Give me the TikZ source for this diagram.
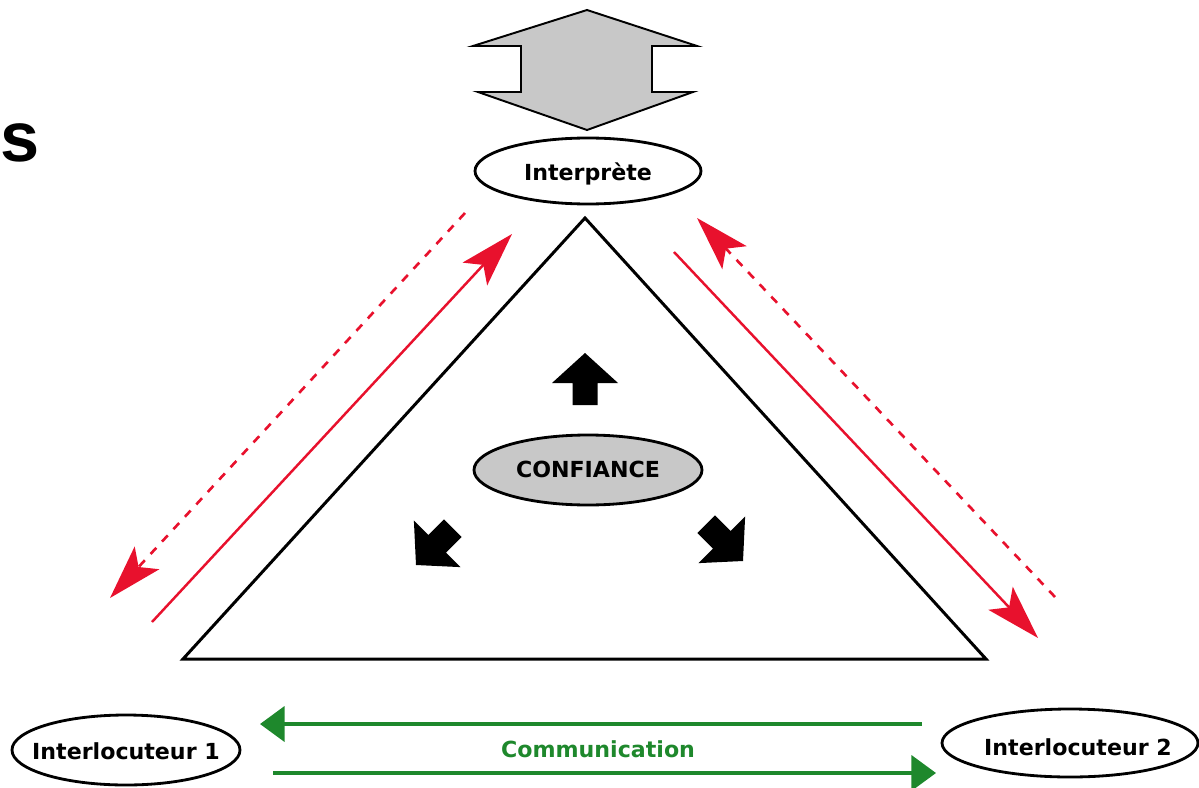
\documentclass[tikz,border=0pt]{standalone}
\usepackage{fontspec}
\setmainfont{DejaVu Sans}
\newfontfamily\bigsfont{Liberation Sans}
\usetikzlibrary{arrows.meta}
\definecolor{redarr}{RGB}{232,17,45}
\definecolor{greenarr}{RGB}{30,136,44}
\definecolor{shapegray}{RGB}{200,200,200}
\begin{document}
\begin{tikzpicture}[x=0.02cm,y=-0.02cm,
  lbl/.style={font=\fontsize{12.6}{15}\selectfont\bfseries, inner sep=0pt, anchor=base},
  oval/.style={draw=black, line width=1.6pt},
  redline/.style={draw=redarr, line width=1.4pt, -{Stealth[length=31pt,width=19pt,inset=7pt]}},
  reddash/.style={redline, line width=1.5pt, dash pattern=on 4.8pt off 4.8pt},
  greenline/.style={draw=greenarr, line width=2pt, -{Triangle[length=14pt,width=20pt]}},
  blackarrow/.style={fill=black},
]
\useasboundingbox (0,0) rectangle (1199,787);

% big double arrow at top
\draw[fill=shapegray, line width=1.1pt, line join=miter]
  (587,10) -- (697,46) -- (652,46) -- (652,92) -- (693,92) -- (587,130)
  -- (478,92) -- (521,92) -- (521,46) -- (473,46) -- cycle;

% triangle
\draw[line width=1.7pt, line join=miter] (585,218) -- (986,659) -- (183,659) -- cycle;

% ellipses
\draw[oval] (588,171) ellipse [x radius=113, y radius=33];
\draw[oval, fill=shapegray] (588,470) ellipse [x radius=114, y radius=35];
\draw[oval] (126,750) ellipse [x radius=114, y radius=35];
\draw[oval] (1070,743) ellipse [x radius=128, y radius=34];

% labels
\node[lbl] (interp) at (588,181) {Interprète};
\node[lbl] (conf) at (588,477) {CONFIANCE};
\node[lbl] (int1) at (126,759) {Interlocuteur 1};
\node[lbl] (int2) at (1078,755) {Interlocuteur 2};
\node[lbl, text=greenarr] (comm) at (598,757) {Communication};
\node[font=\bigsfont\bfseries\fontsize{40}{40}\selectfont, inner sep=0pt, anchor=base west] (s) at (0,162) {s};

% black block arrows
\fill[blackarrow, shift={(585,353)}]
  (0,0) -- (33,30) -- (12.5,30) -- (12.5,52) -- (-12.5,52) -- (-12.5,30) -- (-33,30) -- cycle;
\fill[blackarrow, shift={(416,565)}, rotate=135]
  (0,0) -- (33,30) -- (12.5,30) -- (12.5,52) -- (-12.5,52) -- (-12.5,30) -- (-33,30) -- cycle;
\fill[blackarrow, shift={(743,561)}, rotate=-135]
  (0,0) -- (33,30) -- (12.5,30) -- (12.5,52) -- (-12.5,52) -- (-12.5,30) -- (-33,30) -- cycle;

% red arrows
\coordinate (la) at (152,622);  \coordinate (lb) at (512,234);
\coordinate (lc) at (465,213);  \coordinate (ld) at (110,598);
\coordinate (ra) at (674,252);  \coordinate (rb) at (1038,638);
\coordinate (rc) at (1055,597); \coordinate (rd) at (697,218);
\draw[redline] (la) -- (lb);
\draw[reddash] (lc) -- (ld);
\draw[redline] (ra) -- (rb);
\draw[reddash] (rc) -- (rd);

% green arrows
\coordinate (ga) at (922,724); \coordinate (gb) at (260,724);
\coordinate (gc) at (273,773); \coordinate (gd) at (936,773);
\draw[greenline] (ga) -- (gb);
\draw[greenline] (gc) -- (gd);
\end{tikzpicture}
\end{document}
